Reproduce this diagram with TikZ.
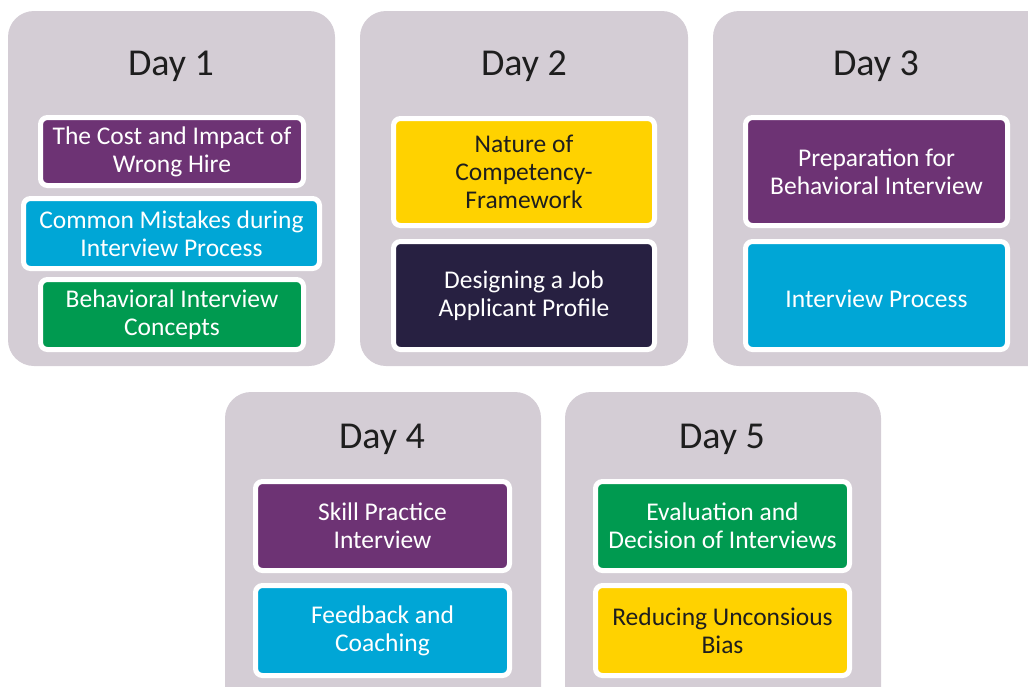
\documentclass[tikz,border=0pt]{standalone}
\usepackage{fontspec}
\setmainfont{Carlito}
\definecolor{panelgray}{HTML}{D4CDD5}
\definecolor{topicpurple}{HTML}{6D3374}
\definecolor{topicblue}{HTML}{00A6D6}
\definecolor{topicgreen}{HTML}{009A50}
\definecolor{topicyellow}{HTML}{FFD200}
\definecolor{topicnavy}{HTML}{272041}
\definecolor{titleink}{HTML}{1E1E1E}
\tikzset{
  panel/.style={fill=panelgray, rounded corners=26pt},
  daytitle/.style={text=titleink, font=\fontsize{38}{40}\selectfont, inner sep=0pt},
  topic/.style={draw=white, line width=5pt, rounded corners=7pt, inner sep=0pt,
    align=center, font=\fontsize{25.5}{28}\selectfont, text=white,
    execute at begin node={\rule{0pt}{25pt}}},
  darktext/.style={text=titleink}
}
\begin{document}
\begin{tikzpicture}[x=1pt, y=-1pt]
\useasboundingbox (0,0) rectangle (1028,686);
\clip (0,0) rectangle (1028,686);

% day panels
\fill[panel] (8,11) rectangle (335,366);
\fill[panel] (360,11) rectangle (688,366);
\fill[panel] (713,11) rectangle (1060,366);
\fill[panel] (225,392) rectangle (541,720);
\fill[panel] (565,392) rectangle (881,720);

% day titles
\node[daytitle] (t1) at (171,66) {Day 1};
\node[daytitle] (t2) at (524,66) {Day 2};
\node[daytitle] (t3) at (876,66) {Day 3};
\node[daytitle] (t4) at (382,439) {Day 4};
\node[daytitle] (t5) at (722,439) {Day 5};

% day 1 topics
\node[topic, fill=topicpurple, minimum width=263pt, minimum height=68pt] (d1a) at (172,151.5)
  {The Cost and Impact of\\Wrong Hire};
\node[topic, fill=topicblue, minimum width=296pt, minimum height=70pt] (d1b) at (171.5,233.5)
  {Common Mistakes during\\Interview Process};
\node[topic, fill=topicgreen, minimum width=263pt, minimum height=70pt] (d1c) at (172,314.5)
  {Behavioral Interview\\Concepts};

% day 2 topics
\node[topic, darktext, fill=topicyellow, minimum width=261pt, minimum height=107pt] (d2a) at (524,172)
  {Nature of\\Competency-\\Framework};
\node[topic, fill=topicnavy, minimum width=261pt, minimum height=108pt] (d2b) at (524,295.5)
  {Designing a Job\\Applicant Profile};

% day 3 topics
\node[topic, fill=topicpurple, minimum width=262pt, minimum height=108pt] (d3a) at (876.5,171.5)
  {Preparation for\\Behavioral Interview};
\node[topic, fill=topicblue, minimum width=262pt, minimum height=108pt] (d3b) at (876.5,295.5)
  {Interview Process};

% day 4 topics
\node[topic, fill=topicpurple, minimum width=254pt, minimum height=89pt] (d4a) at (382.5,526)
  {Skill Practice\\Interview};
\node[topic, fill=topicblue, minimum width=254pt, minimum height=90pt] (d4b) at (382.5,630.5)
  {Feedback and\\Coaching};

% day 5 topics
\node[topic, fill=topicgreen, minimum width=254pt, minimum height=89pt] (d5a) at (722.5,526)
  {Evaluation and\\Decision of Interviews};
\node[topic, darktext, fill=topicyellow, minimum width=254pt, minimum height=90pt] (d5b) at (722.5,630.5)
  {Reducing Unconsious\\Bias};
\end{tikzpicture}
\end{document}
